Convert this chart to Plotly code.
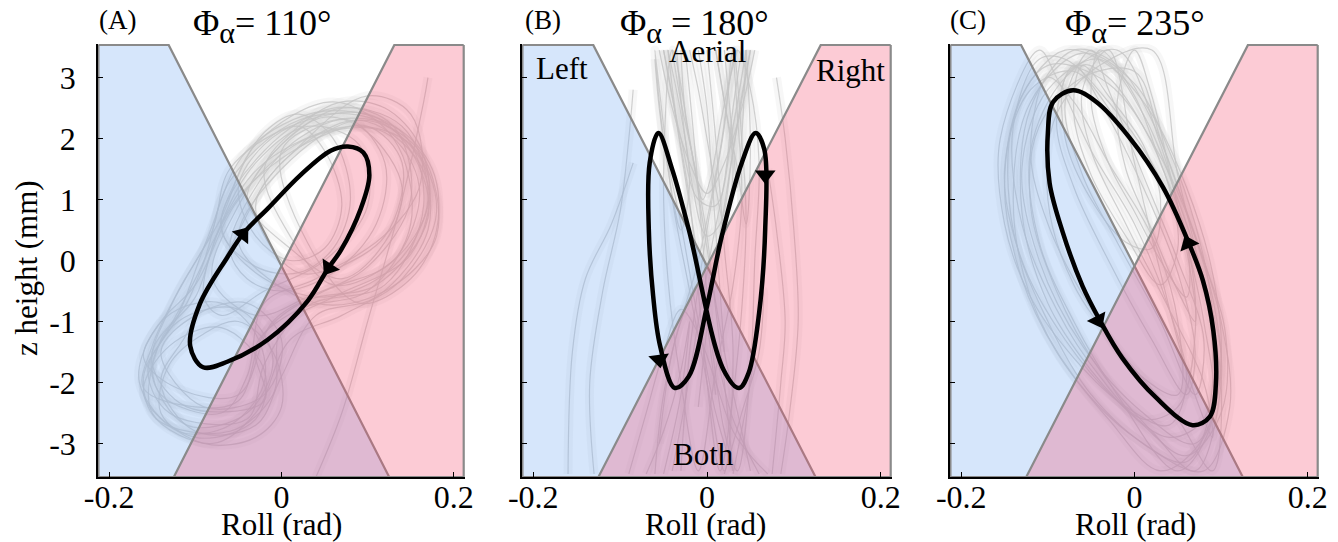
import plotly.graph_objects as go

# ---------------- axes / labels ----------------
X_RANGE = [-0.213, 0.213]
Y_RANGE = [-3.55, 3.55]
X_TICKS = [-0.2, 0, 0.2]
X_TICK_TEXT = ["-0.2", "0", "0.2"]
Y_TICKS = [-3, -2, -1, 0, 1, 2, 3]
Y_TICK_TEXT = ["-3", "-2", "-1", "0", "1", "2", "3"]
PANEL_LETTERS = ["(A)", "(B)", "(C)"]
PHASES = ["= 110°", " = 180°", "= 235°"]
REGION_LABELS = ["Left", "Aerial", "Right", "Both"]
X_TITLE = "Roll (rad)"
Y_TITLE = "z height (mm)"

# ---------------- contact regions ----------------
BLUE_X = [-0.2125, -0.131, 0.125, -0.2125, -0.2125]
BLUE_Y = [3.535, 3.535, -3.55, -3.55, 3.535]
RED_X = [0.2115, 0.131, -0.125, 0.2115, 0.2115]
RED_Y = [3.535, 3.535, -3.55, -3.55, 3.535]

# ---------------- model limit cycles (black) ----------------
LOOP_A_X = [-0.091, -0.106, -0.095, -0.063, -0.044, -0.016, 0.022, 0.057, 0.077, 0.095, 0.102, 0.092, 0.069, 0.054, 0.030, -0.016, -0.063, -0.091]
LOOP_A_Y = [-1.75, -1.40, -0.72, 0.05, 0.45, 0.85, 1.40, 1.80, 1.87, 1.77, 1.40, 0.85, 0.17, -0.13, -0.67, -1.30, -1.66, -1.75]
ARROW_A_X = [-0.045, 0.055]
ARROW_A_Y = [0.43, -0.12]
ARROW_A_ANG = [38, 213]

LOOP_B_X = [-0.056, -0.066, -0.067, -0.062, -0.054, -0.037, -0.021, 0.000, 0.017, 0.040, 0.056, 0.066, 0.067, 0.060, 0.048, 0.037, 0.019, -0.021, -0.040, -0.056]
LOOP_B_Y = [2.09, 1.60, 0.51, -0.58, -1.40, -2.09, -1.90, -0.75, 0.40, 1.60, 2.09, 1.82, 0.51, -0.86, -1.84, -2.09, -1.79, 0.51, 1.49, 2.09]
ARROW_B_X = [-0.055, 0.067]
ARROW_B_Y = [-1.62, 1.40]
ARROW_B_ANG = [172, 180]

LOOP_C_X = [-0.071, -0.094, -0.100, -0.098, -0.083, -0.060, -0.040, -0.014, 0.025, 0.067, 0.087, 0.094, 0.091, 0.079, 0.062, 0.033, -0.006, -0.044, -0.071]
LOOP_C_Y = [2.79, 2.60, 2.10, 1.27, 0.47, -0.42, -0.98, -1.60, -2.25, -2.70, -2.56, -2.02, -1.15, -0.33, 0.31, 1.20, 2.02, 2.60, 2.79]
ARROW_C_X = [-0.042, 0.062]
ARROW_C_Y = [-0.98, 0.28]
ARROW_C_ANG = [153, 337]

# ---------------- experimental trajectories (grey) ----------------
GRAY_A_X = [
    [-0.04, -0.13, -0.155, -0.12, -0.085, -0.04, 0.05, 0.14, 0.165, 0.12, 0.03, -0.02, -0.04],
    [-0.06, -0.145, -0.16, -0.13, -0.09, -0.06, 0.02, 0.11, 0.17, 0.15, 0.06, 0.0, -0.01, -0.06],
    [-0.02, -0.11, -0.15, -0.13, -0.07, -0.03, 0.06, 0.13, 0.15, 0.10, 0.02, -0.03, -0.02],
    [-0.08, -0.15, -0.14, -0.10, -0.07, -0.02, 0.08, 0.15, 0.18, 0.14, 0.07, 0.01, -0.03, -0.08],
    [-0.05, -0.12, -0.16, -0.14, -0.10, -0.05, 0.03, 0.12, 0.16, 0.13, 0.05, -0.01, -0.05],
    [-0.03, -0.10, -0.14, -0.11, -0.06, 0.0, 0.09, 0.16, 0.17, 0.11, 0.04, 0.0, -0.03],
    [-0.07, -0.14, -0.15, -0.11, -0.08, -0.04, 0.04, 0.10, 0.14, 0.12, 0.04, -0.02, -0.04, -0.07],
    [-0.10, -0.16, -0.15, -0.12, -0.08, -0.06, 0.01, 0.10, 0.15, 0.17, 0.11, 0.03, -0.02, -0.05, -0.10],
    [-0.15, -0.12, -0.05, -0.01, -0.04, -0.11, -0.15],
    [-0.16, -0.13, -0.07, -0.02, -0.03, -0.10, -0.16],
    [-0.14, -0.10, -0.04, 0.0, -0.02, -0.09, -0.14],
    [-0.09, -0.05, -0.01, 0.0, -0.03, -0.09, -0.14, -0.13, -0.09],
    [-0.12, -0.07, -0.03, -0.02, -0.06, -0.12, -0.165, -0.15, -0.12],
    [-0.07, -0.02, 0.06, 0.14, 0.17, 0.13, 0.05, -0.03, -0.07],
    [-0.05, 0.0, 0.09, 0.16, 0.18, 0.12, 0.04, -0.05],
    [-0.03, 0.03, 0.10, 0.15, 0.16, 0.10, 0.02, -0.03],
    [-0.06, -0.03, 0.02, 0.08, 0.12, 0.11, 0.06, 0.0, -0.04, -0.06],
    [-0.08, -0.05, 0.0, 0.07, 0.13, 0.15, 0.10, 0.03, -0.03, -0.08],
    [-0.04, 0.0, 0.05, 0.10, 0.14, 0.12, 0.07, 0.01, -0.04],
    [0.0, 0.06, 0.13, 0.175, 0.18, 0.15, 0.09, 0.03, 0.0],
    [-0.02, 0.02, 0.07, 0.12, 0.16, 0.17, 0.13, 0.06, 0.01, -0.02],
    [-0.07, -0.05, -0.02, 0.02, 0.06, 0.08, 0.06, 0.02, -0.03, -0.07],
    [-0.05, -0.02, 0.02, 0.05, 0.07, 0.05, 0.01, -0.03, -0.05],
    [-0.09, -0.07, -0.03, 0.03, 0.09, 0.10, 0.05, -0.02, -0.07, -0.09],
    [0.17, 0.165, 0.14, 0.10, 0.07, 0.04],
]
GRAY_A_Y = [
    [-2.6, -2.5, -1.8, -0.9, 0.4, 1.8, 2.45, 2.1, 0.9, -0.4, -0.75, -1.7, -2.6],
    [-2.8, -2.6, -1.9, -1.1, 0.0, 1.3, 2.3, 2.3, 1.4, 0.1, -0.6, -1.1, -2.2, -2.8],
    [-2.3, -2.4, -1.7, -0.8, 0.7, 1.9, 2.6, 2.0, 0.6, -0.5, -0.8, -1.4, -2.3],
    [-3.0, -2.5, -1.3, -0.6, 0.6, 1.6, 2.2, 1.9, 0.8, -0.3, -0.9, -1.3, -2.5, -3.0],
    [-2.2, -2.1, -1.6, -1.0, -0.4, 1.0, 2.0, 2.1, 1.2, 0.0, -0.5, -1.0, -2.2],
    [-2.7, -2.8, -2.0, -1.2, 0.2, 1.6, 2.3, 1.6, 0.5, -0.6, -0.9, -1.9, -2.7],
    [-2.5, -2.2, -1.5, -0.7, 0.3, 1.2, 2.0, 2.2, 1.6, 0.4, -0.3, -0.7, -1.9, -2.5],
    [-2.4, -2.1, -1.4, -0.5, 0.5, 1.5, 2.2, 2.4, 1.8, 0.7, -0.4, -0.65, -1.2, -2.3, -2.4],
    [-1.8, -1.0, -0.8, -1.6, -2.5, -2.7, -1.8],
    [-2.2, -1.4, -1.1, -1.8, -2.6, -2.9, -2.2],
    [-1.5, -0.9, -0.7, -1.3, -2.2, -2.4, -1.5],
    [-1.2, -1.0, -1.5, -2.4, -2.9, -3.0, -2.5, -1.7, -1.2],
    [-0.8, -0.7, -1.2, -2.0, -2.7, -2.8, -2.0, -1.2, -0.8],
    [0.6, 1.8, 2.5, 2.2, 1.0, -0.1, -0.6, -0.2, 0.6],
    [0.3, 1.5, 2.3, 1.8, 0.4, -0.5, -0.7, 0.3],
    [0.9, 2.0, 2.7, 2.4, 1.2, 0.2, -0.2, 0.9],
    [0.2, 1.2, 2.0, 2.3, 1.6, 0.6, -0.2, -0.5, -0.3, 0.2],
    [-0.3, 0.9, 1.9, 2.5, 2.2, 1.0, -0.1, -0.6, -0.9, -0.3],
    [1.0, 1.9, 2.35, 2.1, 1.2, 0.3, -0.3, 0.2, 1.0],
    [1.8, 2.3, 2.2, 1.5, 0.5, -0.3, -0.7, 0.3, 1.8],
    [1.5, 2.2, 2.6, 2.5, 1.9, 0.9, 0.0, -0.4, 0.4, 1.5],
    [0.5, 1.4, 2.1, 2.4, 2.0, 1.0, 0.2, -0.2, -0.1, 0.5],
    [1.2, 1.9, 2.2, 1.8, 0.9, 0.2, 0.0, 0.4, 1.2],
    [-0.6, 0.6, 1.6, 2.2, 1.9, 0.9, 0.0, -0.5, -0.9, -0.6],
    [3.0, 2.6, 1.0, -1.0, -2.5, -3.55],
]

GRAY_B_X = [
    [-0.045, -0.035, -0.02, -0.01, 0.0, 0.015, 0.03, 0.04, 0.045, 0.04, 0.03, 0.02, 0.0, -0.02, -0.03],
    [-0.025, -0.015, -0.005, 0.005, 0.02, 0.035, 0.05, 0.055, 0.06, 0.05, 0.035, 0.015, -0.01, -0.04, -0.055],
    [0.0, 0.01, 0.02, 0.03, 0.02, 0.0, -0.02, -0.04, -0.05, -0.06, -0.05, -0.03, -0.01, 0.01, 0.03],
    [0.03, 0.035, 0.04, 0.03, 0.01, -0.01, -0.03, -0.045, -0.05, -0.04, -0.02, 0.0, 0.02, 0.04, 0.05],
    [-0.04, -0.03, -0.015, 0.0, 0.01, 0.02, 0.03],
    [0.04, 0.03, 0.02, 0.005, -0.01, -0.025, -0.04],
    [-0.05, -0.04, -0.03, -0.02, -0.01, 0.0, 0.01],
    [0.05, 0.04, 0.03, 0.02, 0.01, 0.0, -0.01],
    [-0.055, -0.04, -0.02, 0.0, 0.02, 0.04, 0.055],
    [-0.05, -0.03, -0.01, 0.01, 0.03, 0.045],
    [-0.035, -0.02, 0.0, 0.015, 0.03, 0.05],
    [-0.03, -0.025, -0.015, -0.005, 0.005, 0.015, 0.025, 0.035],
    [-0.02, -0.01, 0.0, 0.01, 0.02, 0.03, 0.02, 0.01],
    [-0.01, 0.0, 0.005, 0.01, 0.015, 0.02],
    [0.02, 0.025, 0.03, 0.035, 0.04, 0.045],
    [0.01, 0.02, 0.035, 0.045, 0.05, 0.045],
    [-0.06, -0.055, -0.045, -0.03, -0.02, -0.03, -0.045],
    [-0.09, -0.07, -0.05, -0.03, -0.01, 0.01, 0.03, 0.05, 0.07],
    [-0.06, -0.05, -0.03, -0.01, 0.01, 0.03, 0.06],
    [-0.07, -0.05, -0.03, -0.02, -0.03, -0.05],
    [0.02, 0.04, 0.06, 0.065, 0.05, 0.03],
    [-0.13, -0.135, -0.12, -0.10, -0.09, -0.085],
    [-0.16, -0.155, -0.14, -0.11, -0.085],
    [0.08, 0.09, 0.10, 0.105, 0.095, 0.085],
    [0.07, 0.08, 0.09, 0.085, 0.075],
]
GRAY_B_Y = [
    [3.45, 2.3, 1.0, -0.5, -2.0, -3.45, -2.2, -0.8, 0.7, 2.0, 3.45, 2.2, 0.5, -1.5, -3.45],
    [3.45, 2.0, 0.3, -1.3, -2.8, -3.45, -1.8, 0.0, 1.6, 2.8, 3.45, 1.8, 0.0, -1.5, -3.0],
    [3.45, 2.0, 0.2, -1.5, -3.45, -2.0, -0.5, 1.0, 2.2, 3.45, 2.0, 0.6, -1.0, -2.5, -3.45],
    [3.45, 2.4, 1.0, -0.4, -1.8, -3.45, -2.0, -0.3, 1.4, 3.45, 2.0, 0.2, -1.5, -2.8, -3.45],
    [3.45, 2.6, 1.6, 0.4, -0.8, -2.0, -3.45],
    [3.45, 2.5, 1.3, 0.2, -1.0, -2.3, -3.45],
    [3.45, 2.7, 1.8, 0.9, 0.0, -1.0, -2.2],
    [3.45, 2.7, 1.8, 0.9, 0.0, -1.1, -2.4],
    [3.45, 2.5, 1.6, 1.1, 1.6, 2.5, 3.45],
    [3.45, 2.0, 1.0, 0.9, 2.2, 3.45],
    [3.45, 1.5, 0.4, 0.6, 1.8, 3.45],
    [3.45, 2.4, 1.6, 1.0, 1.4, 2.2, 2.9, 3.45],
    [3.45, 2.8, 2.0, 1.2, 0.6, 1.5, 2.6, 3.45],
    [3.45, 2.5, 1.5, 0.5, -0.5, -1.5],
    [3.45, 2.7, 1.9, 1.2, 2.0, 3.45],
    [3.45, 2.6, 1.5, 0.6, 1.8, 3.45],
    [3.3, 2.5, 1.5, 0.5, 1.3, 2.4, 3.45],
    [-3.5, -2.5, -1.5, -0.8, -1.2, -2.0, -2.8, -3.2, -3.5],
    [-3.5, -2.2, -1.0, -0.4, -1.5, -2.6, -3.5],
    [-3.5, -2.8, -1.8, -1.0, -2.2, -3.5],
    [-3.5, -2.5, -1.5, -0.5, -2.0, -3.5],
    [-3.5, -2.0, -0.5, 0.8, 2.0, 2.8],
    [-3.5, -1.5, -0.3, 0.6, 1.6],
    [3.0, 2.0, 0.5, -1.0, -2.5, -3.5],
    [1.5, 0.5, -1.0, -2.0, -3.5],
]

GRAY_C_X = [
    [-0.06, -0.12, -0.14, -0.12, -0.07, 0.0, 0.06, 0.09, 0.09, 0.07, 0.04, 0.0, -0.06],
    [-0.08, -0.13, -0.15, -0.13, -0.09, -0.03, 0.03, 0.08, 0.10, 0.09, 0.06, 0.02, -0.03, -0.08],
    [-0.04, -0.10, -0.13, -0.11, -0.06, 0.01, 0.07, 0.10, 0.08, 0.05, 0.01, -0.04],
    [-0.10, -0.14, -0.14, -0.10, -0.05, 0.02, 0.08, 0.11, 0.10, 0.07, 0.03, -0.03, -0.10],
    [-0.02, -0.08, -0.12, -0.11, -0.07, -0.02, 0.05, 0.09, 0.08, 0.06, 0.03, -0.02],
    [-0.12, -0.15, -0.13, -0.08, -0.02, 0.04, 0.08, 0.09, 0.07, 0.03, -0.02, -0.07, -0.12],
    [-0.07, -0.12, -0.13, -0.10, -0.05, 0.01, 0.06, 0.10, 0.105, 0.08, 0.05, 0.02, -0.02, -0.07],
    [0.0, -0.06, -0.11, -0.12, -0.09, -0.04, 0.02, 0.07, 0.10, 0.09, 0.06, 0.03, 0.0],
    [-0.11, -0.14, -0.13, -0.09, -0.04, 0.01, 0.05, 0.07, 0.06, 0.02, -0.03, -0.08, -0.11],
    [-0.07, -0.09, -0.07, -0.03, 0.02, 0.06, 0.07, 0.05, 0.01, -0.04, -0.07],
    [-0.05, -0.08, -0.06, -0.02, 0.03, 0.07, 0.08, 0.05, 0.01, -0.03, -0.05],
    [-0.10, -0.12, -0.10, -0.05, 0.0, 0.05, 0.05, 0.02, -0.03, -0.07, -0.10],
    [0.02, -0.04, -0.09, -0.10, -0.07, -0.01, 0.05, 0.09, 0.10, 0.08, 0.05, 0.02],
    [-0.11, -0.155, -0.15, -0.12, -0.07, -0.01, 0.04, 0.06, 0.04, 0.0, -0.05, -0.09, -0.11],
    [-0.03, -0.06, -0.05, -0.01, 0.04, 0.08, 0.09, 0.06, 0.03, 0.0, -0.03],
    [-0.06, -0.07, -0.05, -0.01, 0.03, 0.05, 0.04, 0.01, -0.03, -0.06],
    [-0.04, -0.05, -0.03, 0.0, 0.03, 0.06, 0.06, 0.03, 0.0, -0.04],
    [-0.08, -0.08, -0.05, -0.01, 0.02, 0.03, 0.01, -0.03, -0.06, -0.08],
    [0.0, -0.02, -0.01, 0.02, 0.05, 0.07, 0.06, 0.04, 0.02, 0.0],
]
GRAY_C_Y = [
    [3.4, 2.6, 1.0, -0.6, -1.9, -2.9, -3.3, -2.3, -0.8, 0.6, 1.8, 2.9, 3.4],
    [3.45, 2.7, 1.2, -0.3, -1.5, -2.6, -3.45, -2.9, -1.6, -0.2, 1.2, 2.4, 3.2, 3.45],
    [3.3, 2.8, 1.5, 0.0, -1.4, -2.5, -3.0, -1.8, -0.3, 1.0, 2.4, 3.3],
    [3.2, 2.3, 0.5, -1.0, -2.2, -3.1, -3.45, -2.4, -1.0, 0.4, 1.7, 2.9, 3.2],
    [3.45, 3.0, 1.8, 0.3, -1.0, -2.2, -3.45, -2.6, -1.0, 0.3, 1.9, 3.45],
    [2.8, 1.5, 0.0, -1.3, -2.3, -2.9, -2.6, -1.4, 0.0, 1.3, 2.3, 3.1, 2.8],
    [3.45, 2.5, 0.8, -0.7, -1.8, -2.7, -3.2, -2.5, -1.2, 0.0, 1.2, 2.3, 3.2, 3.45],
    [3.1, 3.0, 2.2, 0.9, -0.5, -1.8, -2.8, -3.45, -2.0, -0.6, 0.8, 2.0, 3.1],
    [3.3, 2.2, 0.6, -0.8, -1.9, -2.6, -2.4, -1.2, 0.3, 1.6, 2.6, 3.3, 3.3],
    [3.2, 2.3, 1.2, 0.0, -1.3, -2.2, -1.5, -0.2, 1.2, 2.6, 3.2],
    [3.45, 2.6, 1.4, 0.3, -1.0, -2.2, -1.3, 0.0, 1.4, 2.8, 3.45],
    [3.0, 1.8, 0.6, -0.8, -1.8, -2.2, -1.0, 0.4, 1.6, 2.6, 3.0],
    [3.45, 3.2, 2.4, 1.0, -0.4, -1.6, -2.6, -3.45, -2.0, -0.4, 1.4, 3.45],
    [3.45, 2.0, 0.6, -0.6, -1.6, -2.4, -2.7, -2.0, -0.8, 0.6, 1.8, 3.0, 3.45],
    [3.45, 2.8, 1.8, 0.6, -0.8, -2.0, -2.9, -1.8, -0.2, 1.6, 3.45],
    [3.2, 2.4, 1.4, 0.4, -0.4, 0.2, 1.2, 2.2, 3.0, 3.2],
    [3.45, 2.6, 1.6, 0.8, 0.0, -0.6, 0.4, 1.6, 2.7, 3.45],
    [3.0, 2.0, 1.0, 0.3, 0.2, 1.0, 1.9, 2.7, 3.2, 3.0],
    [3.45, 2.6, 1.5, 0.5, -0.5, -1.0, 0.2, 1.5, 2.7, 3.45],
]

# ---------------- styling ----------------
FONT = "Liberation Serif"
GRAY_LINE = "rgba(196,196,196,0.8)"
GRAY_HAZE = "rgba(205,205,205,0.16)"
BLUE_FILL = "rgba(118,172,242,0.30)"
RED_FILL = "rgba(245,82,115,0.30)"
EDGE = "#8a8a8a"
W, H = 1338, 542
TOP, BOTTOM = 44, 477
X_DOMAINS = [[98 / W, 465 / W], [522 / W, 892 / W], [950 / W, 1319 / W]]

fig = go.Figure()

panels = [
    (GRAY_A_X, GRAY_A_Y, LOOP_A_X, LOOP_A_Y, ARROW_A_X, ARROW_A_Y, ARROW_A_ANG),
    (GRAY_B_X, GRAY_B_Y, LOOP_B_X, LOOP_B_Y, ARROW_B_X, ARROW_B_Y, ARROW_B_ANG),
    (GRAY_C_X, GRAY_C_Y, LOOP_C_X, LOOP_C_Y, ARROW_C_X, ARROW_C_Y, ARROW_C_ANG),
]

for i, (gx, gy, lx, ly, ax, ay, aa) in enumerate(panels):
    xr = "x" if i == 0 else f"x{i+1}"
    yr = "y" if i == 0 else f"y{i+1}"
    for tx, ty in zip(gx, gy):
        fig.add_trace(go.Scatter(x=tx, y=ty, mode="lines", xaxis=xr, yaxis=yr,
                                 line=dict(color=GRAY_HAZE, width=9, shape="spline", smoothing=1.0),
                                 hoverinfo="skip", showlegend=False))
    for tx, ty in zip(gx, gy):
        fig.add_trace(go.Scatter(x=tx, y=ty, mode="lines", xaxis=xr, yaxis=yr,
                                 line=dict(color=GRAY_LINE, width=1.2, shape="spline", smoothing=1.0),
                                 hoverinfo="skip", showlegend=False))
    fig.add_trace(go.Scatter(x=BLUE_X, y=BLUE_Y, mode="lines", fill="toself", fillcolor=BLUE_FILL,
                             line=dict(color=EDGE, width=2.2), xaxis=xr, yaxis=yr,
                             hoverinfo="skip", showlegend=False))
    fig.add_trace(go.Scatter(x=RED_X, y=RED_Y, mode="lines", fill="toself", fillcolor=RED_FILL,
                             line=dict(color=EDGE, width=2.2), xaxis=xr, yaxis=yr,
                             hoverinfo="skip", showlegend=False))
    fig.add_trace(go.Scatter(x=lx, y=ly, mode="lines", xaxis=xr, yaxis=yr,
                             line=dict(color="black", width=4.5, shape="spline", smoothing=1.0),
                             hoverinfo="skip", showlegend=False))
    fig.add_trace(go.Scatter(x=ax, y=ay, mode="markers", xaxis=xr, yaxis=yr,
                             marker=dict(symbol="triangle-up", size=18, color="black", angle=aa,
                                         line=dict(width=0)),
                             hoverinfo="skip", showlegend=False))

axis_common = dict(showgrid=False, zeroline=False, showline=True, linecolor="black", linewidth=1.6,
                   ticks="inside", ticklen=5, tickwidth=1.2, tickcolor="black",
                   tickfont=dict(family=FONT, size=32, color="black"), automargin=False)

layout = dict(
    width=W, height=H, paper_bgcolor="white", plot_bgcolor="white",
    margin=dict(l=0, r=0, t=TOP, b=H - BOTTOM),
    font=dict(family=FONT, color="black"),
)
for i in range(3):
    xk = "xaxis" if i == 0 else f"xaxis{i+1}"
    yk = "yaxis" if i == 0 else f"yaxis{i+1}"
    layout[xk] = dict(axis_common, domain=X_DOMAINS[i], range=X_RANGE, tickvals=X_TICKS,
                      ticktext=X_TICK_TEXT, anchor="y" if i == 0 else f"y{i+1}", ticklabelstandoff=-9)
    layout[yk] = dict(axis_common, domain=[0, 1], range=Y_RANGE, tickvals=Y_TICKS,
                      ticktext=Y_TICK_TEXT, anchor="x" if i == 0 else f"x{i+1}",
                      showticklabels=(i == 0), ticklabelstandoff=14)
fig.update_layout(**layout)


def px2paper(px, py):
    return px / W, (BOTTOM - py) / (BOTTOM - TOP)


def note(text, px, py, size, angle=0):
    x, y = px2paper(px, py)
    return dict(text=text, x=x, y=y, xref="paper", yref="paper", xanchor="center", yanchor="middle",
                showarrow=False, textangle=angle, font=dict(family=FONT, size=size, color="black"))


annotations = []
letter_pos = [(117, 20), (543, 20), (968, 20)]
title_pos = [(262, 26), (694, 26), (1135, 26)]
xtitle_pos = [281, 705, 1135]
for i in range(3):
    annotations.append(note(PANEL_LETTERS[i], *letter_pos[i], 27))
    title = "Φ<sub><span style='font-size:30px'>α</span></sub>" + PHASES[i]
    annotations.append(note(title, *title_pos[i], 36))
    annotations.append(note(X_TITLE, xtitle_pos[i], 524, 31))

label_pos = [(562, 68), (707, 52), (850, 70), (703, 454)]
for t, p in zip(REGION_LABELS, label_pos):
    annotations.append(note(t, *p, 31))

annotations.append(note(Y_TITLE, 26, 268, 31, angle=-90))
fig.update_layout(annotations=annotations)

fig.write_html("out.html")
